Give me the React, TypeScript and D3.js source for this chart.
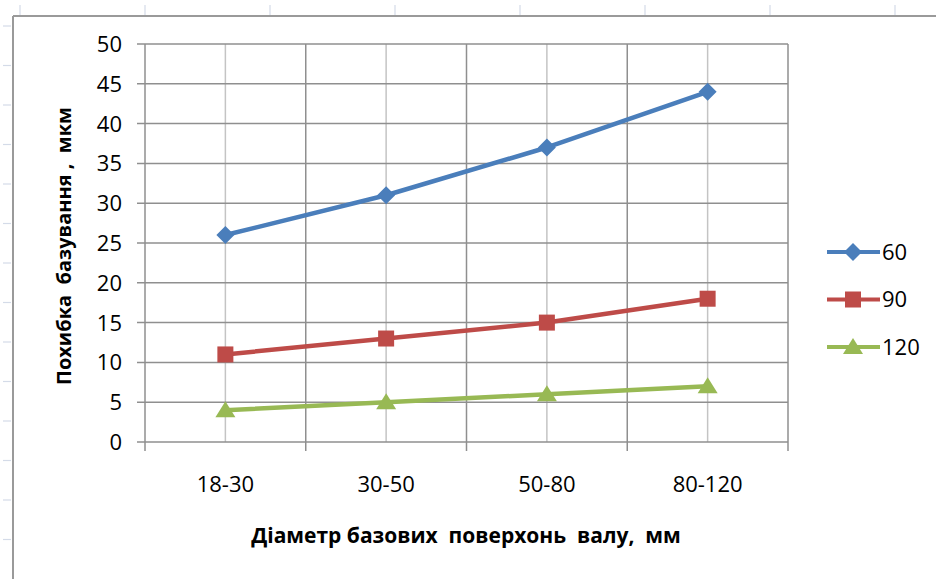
import React from "react";
import * as d3 from "d3";

// Diameter ranges of the base surfaces (mm)
const categories = ["18-30", "30-50", "50-80", "80-120"];
// Series names shown in the legend
const seriesNames = ["60", "90", "120"];
// Base error values, µm
const values60 = [26, 31, 37, 44];
const values90 = [11, 13, 15, 18];
const values120 = [4, 5, 6, 7];
const yTicks = [0, 5, 10, 15, 20, 25, 30, 35, 40, 45, 50];

const colors = ["#4a7ebb", "#be4b48", "#98b954"];
const markerKinds = ["diamond", "square", "triangle"] as const;

const W = 936;
const H = 579;
const plot = { left: 145, right: 788, top: 44, bottom: 442 };
const FONT = "'Open Sans', 'Noto Sans', sans-serif";

function Marker({ kind, x, y, color }: { kind: string; x: number; y: number; color: string }) {
  if (kind === "diamond") {
    const r = 9;
    return <path d={`M${x},${y - r}L${x + r},${y}L${x},${y + r}L${x - r},${y}Z`} fill={color} />;
  }
  if (kind === "square") {
    const s = 8;
    return <rect x={x - s} y={y - s} width={2 * s} height={2 * s} fill={color} />;
  }
  const r = 9;
  return <path d={`M${x},${y - r}L${x + r + 1},${y + r - 2}L${x - r - 1},${y + r - 2}Z`} fill={color} />;
}

export default function App() {
  const series = [values60, values90, values120];
  const x = d3.scaleBand<string>().domain(categories).range([plot.left, plot.right]);
  const y = d3.scaleLinear().domain([0, 50]).range([plot.bottom, plot.top]);
  const cx = (c: string) => (x(c) as number) + x.bandwidth() / 2;
  const line = d3
    .line<[string, number]>()
    .x((d) => cx(d[0]))
    .y((d) => y(d[1]));

  // Spreadsheet cell guides behind the chart
  const colMarks = d3.range(20, W, 125);
  const rowMarks = d3.range(26, H, 39.5);

  const boundaries = categories.map((c) => x(c) as number).concat([plot.right]);

  return (
    <svg width={W} height={H} style={{ position: "absolute", left: 0, top: 0 }} fontFamily={FONT}>
      <rect width={W} height={H} fill="#fff" />
      {colMarks.map((cxm) => (
        <line key={"c" + cxm} x1={cxm} x2={cxm} y1={5} y2={15} stroke="#d4dbe8" strokeWidth={1.2} />
      ))}
      {rowMarks.map((ry) => (
        <line key={"r" + ry} x1={3} x2={11} y1={ry} y2={ry} stroke="#d4dbe8" strokeWidth={1.2} />
      ))}
      {/* chart frame */}
      <line x1={13} x2={13} y1={16} y2={H} stroke="#9a9a9a" strokeWidth={2} />
      <line x1={13} x2={W} y1={16} y2={16} stroke="#9a9a9a" strokeWidth={2} />

      {/* minor vertical gridlines at category centres */}
      {categories.map((c) => (
        <line key={"m" + c} x1={cx(c)} x2={cx(c)} y1={plot.top} y2={plot.bottom} stroke="#c4c4c4" strokeWidth={1.5} />
      ))}
      {/* major vertical gridlines at category boundaries */}
      {boundaries.map((bx, i) => (
        <line key={"b" + i} x1={bx} x2={bx} y1={plot.top} y2={plot.bottom + 9} stroke="#8f8f8f" strokeWidth={1.5} />
      ))}
      {/* horizontal gridlines and y ticks */}
      {yTicks.map((t) => (
        <g key={"y" + t}>
          <line x1={plot.left - 8} x2={plot.right} y1={y(t)} y2={y(t)} stroke="#8f8f8f" strokeWidth={1.5} />
          <text x={122} y={y(t)} dy="0.36em" textAnchor="end" fontSize={22} fill="#000">
            {t}
          </text>
        </g>
      ))}
      {categories.map((c) => (
        <text key={"xt" + c} x={cx(c)} y={492} textAnchor="middle" fontSize={22} fill="#000">
          {c}
        </text>
      ))}

      {/* data lines with markers */}
      {series.map((vals, si) => (
        <g key={"s" + si}>
          <path
            d={line(categories.map((c, i) => [c, vals[i]] as [string, number])) as string}
            fill="none"
            stroke={colors[si]}
            strokeWidth={4.5}
            strokeLinejoin="round"
          />
          {categories.map((c, i) => (
            <Marker key={c} kind={markerKinds[si]} x={cx(c)} y={y(vals[i])} color={colors[si]} />
          ))}
        </g>
      ))}

      {/* axis titles */}
      <text x={466} y={543} textAnchor="middle" fontSize={21} fontWeight="bold" fill="#000" style={{ whiteSpace: "pre" }}>
        {"Діаметр базових  поверхонь  валу,  мм"}
      </text>
      <text
        transform={`translate(71,246) rotate(-90)`}
        textAnchor="middle"
        fontSize={20}
        fontWeight="bold"
        fill="#000"
        style={{ whiteSpace: "pre" }}
      >
        {"Похибка  базування ,  мкм"}
      </text>

      {/* legend */}
      {seriesNames.map((n, i) => {
        const ly = 252 + i * 47.5;
        return (
          <g key={"l" + n}>
            <line x1={827} x2={880} y1={ly} y2={ly} stroke={colors[i]} strokeWidth={4} />
            <Marker kind={markerKinds[i]} x={853} y={ly} color={colors[i]} />
            <text x={882} y={ly} dy="0.36em" fontSize={22} fill="#000">
              {n}
            </text>
          </g>
        );
      })}
    </svg>
  );
}
